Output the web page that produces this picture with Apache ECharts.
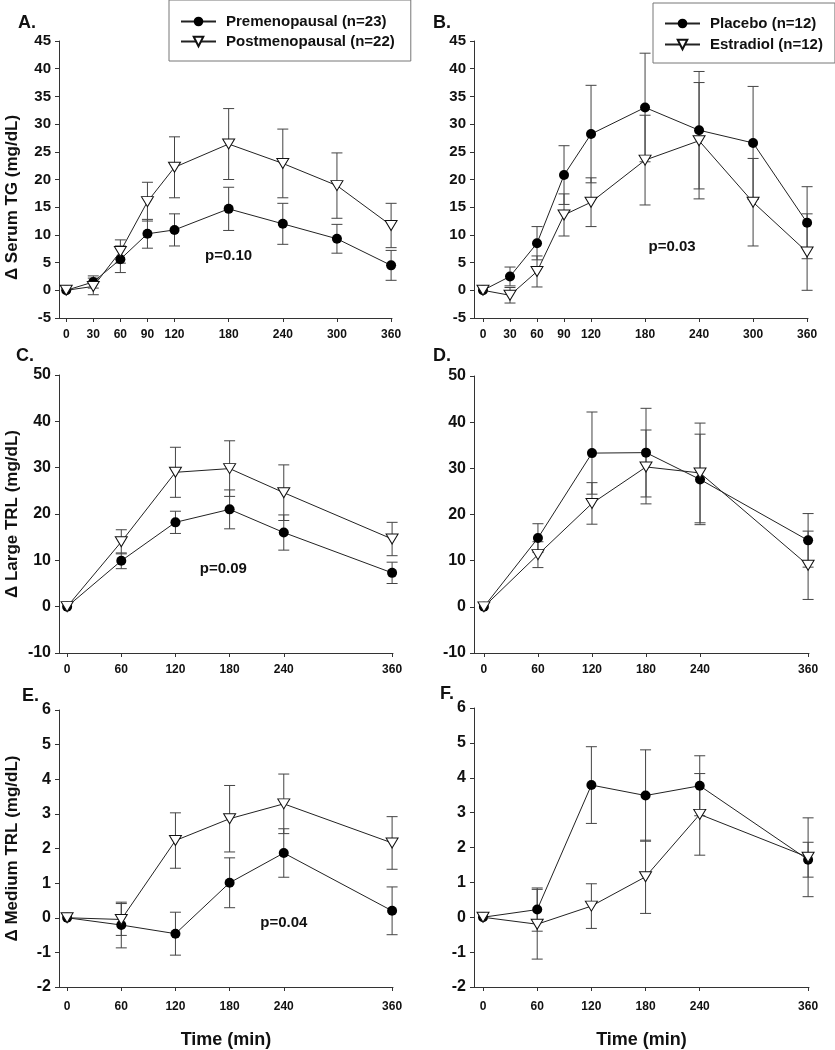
<!DOCTYPE html>
<html>
<head>
<meta charset="utf-8">
<script src="https://cdn.jsdelivr.net/npm/echarts@6/dist/echarts.min.js"></script>
<style>
html,body{margin:0;padding:0;background:#fff;}
#main{width:835px;height:1050px;}
</style>
</head>
<body>
<div id="main"></div>
<script>
// ---------------- DATA ----------------
const timesTG = [0, 30, 60, 90, 120, 180, 240, 300, 360];
const timesTRL = [0, 60, 120, 180, 240, 360];

const tgTickLabels = [0, 30, 60, 90, 120, 180, 240, 300, 360];
const trlTickLabels = [0, 60, 120, 180, 240, 360];

const groupNames = ['Premenopausal (n=23)', 'Postmenopausal (n=22)'];
const trialNames = ['Placebo (n=12)', 'Estradiol (n=12)'];

// Panel A: Serum TG, menopausal status
const tgPre     = [0, 1.5, 5.6, 10.2, 10.9, 14.7, 12.0, 9.3, 4.5];
const tgPreErr  = [0, 1.1, 2.4, 2.6, 2.9, 3.9, 3.7, 2.6, 2.7];
const tgPost    = [0, 0.7, 7.0, 16.0, 22.2, 26.4, 22.9, 18.9, 11.7];
const tgPostErr = [0, 1.5, 2.1, 3.5, 5.5, 6.4, 6.2, 5.9, 4.0];
// Panel B: Serum TG, placebo vs estradiol
const tgPlac    = [0, 2.5, 8.5, 20.8, 28.2, 33.0, 28.9, 26.6, 12.2];
const tgPlacErr = [0, 1.7, 3.0, 5.3, 8.8, 9.8, 10.6, 10.2, 6.5];
const tgEst     = [0, -0.9, 3.4, 13.6, 15.9, 23.5, 27.0, 15.9, 6.9];
const tgEstErr  = [0, 1.4, 2.8, 3.8, 4.4, 8.1, 10.5, 7.9, 6.9];
// Panel C: Large TRL, menopausal status
const lgPre     = [0, 9.9, 18.2, 21.0, 16.0, 7.3];
const lgPreErr  = [0, 1.7, 2.4, 4.2, 3.8, 2.3];
const lgPost    = [0, 14.0, 29.0, 29.8, 24.6, 14.6];
const lgPostErr = [0, 2.6, 5.4, 6.0, 6.0, 3.6];
// Panel D: Large TRL, placebo vs estradiol
const lgPlac    = [0, 14.9, 33.3, 33.4, 27.6, 14.4];
const lgPlacErr = [0, 3.1, 8.9, 9.6, 9.8, 5.8];
const lgEst     = [0, 11.3, 22.4, 30.3, 29.0, 9.0];
const lgEstErr  = [0, 2.8, 4.5, 8.0, 10.8, 7.4];
// Panel E: Medium TRL, menopausal status
const mdPre     = [0, -0.21, -0.46, 1.01, 1.87, 0.20];
const mdPreErr  = [0, 0.66, 0.62, 0.72, 0.70, 0.69];
const mdPost    = [0, -0.05, 2.23, 2.86, 3.29, 2.16];
const mdPostErr = [0, 0.46, 0.80, 0.96, 0.86, 0.76];
// Panel F: Medium TRL, placebo vs estradiol
const mdPlac    = [0, 0.22, 3.79, 3.49, 3.77, 1.65];
const mdPlacErr = [0, 0.62, 1.10, 1.31, 0.86, 0.50];
const mdEst     = [0, -0.20, 0.32, 1.16, 2.95, 1.72];
const mdEstErr  = [0, 1.00, 0.64, 1.05, 1.17, 1.13];

const yTitles = ['\u0394 Serum TG (mg/dL)', '\u0394 Large TRL (mg/dL)', '\u0394 Medium TRL (mg/dL)'];
const panelLetters = ['A.', 'B.', 'C.', 'D.', 'E.', 'F.'];
const pValues = ['p=0.10', 'p=0.03', 'p=0.09', 'p=0.04'];
// p-value anchor positions in data units [panel, time, value]
const pAnchors = [[0, 180, 6.2], [1, 210, 7.8], [2, 173, 8.1], [4, 240, -0.16]];

// ---------------- LAYOUT ----------------
const FONT = '"Liberation Sans", Arial, Helvetica, sans-serif';
const panels = [
  {grid:{left:59, top:41, width:333, height:277}, xmin:-8,  ymin:-5,  ymax:45, yint:5,  times:timesTG,  ticks:tgTickLabels,  s:[[tgPre,tgPreErr],[tgPost,tgPostErr]], names:groupNames, yTitle:yTitles[0], yFont:15, xMargin:11},
  {grid:{left:474, top:41, width:334, height:277}, xmin:-10, ymin:-5,  ymax:45, yint:5,  times:timesTG,  ticks:tgTickLabels,  s:[[tgPlac,tgPlacErr],[tgEst,tgEstErr]], names:trialNames, yTitle:null, yFont:15, xMargin:11},
  {grid:{left:59, top:375, width:334, height:278}, xmin:-9,  ymin:-10, ymax:50, yint:10, times:timesTRL, ticks:trlTickLabels, s:[[lgPre,lgPreErr],[lgPost,lgPostErr]], names:groupNames, yTitle:yTitles[1], yFont:16, xMargin:11},
  {grid:{left:474, top:376, width:335, height:277}, xmin:-11, ymin:-10, ymax:50, yint:10, times:timesTRL, ticks:trlTickLabels, s:[[lgPlac,lgPlacErr],[lgEst,lgEstErr]], names:trialNames, yTitle:null, yFont:16, xMargin:11},
  {grid:{left:59, top:710, width:334, height:277}, xmin:-9,  ymin:-2,  ymax:6,  yint:1,  times:timesTRL, ticks:trlTickLabels, s:[[mdPre,mdPreErr],[mdPost,mdPostErr]], names:groupNames, yTitle:yTitles[2], yFont:16, xMargin:14, xTitle:'Time (min)'},
  {grid:{left:474, top:708, width:335, height:279}, xmin:-10, ymin:-2,  ymax:6,  yint:1,  times:timesTRL, ticks:trlTickLabels, s:[[mdPlac,mdPlacErr],[mdEst,mdEstErr]], names:trialNames, yTitle:null, yFont:16, xMargin:14, xTitle:'Time (min)'}
];
const letterPos = [[18, 24], [433, 24], [16, 357], [433, 357], [22, 697], [440, 695]];

const grids = [], xAxes = [], yAxes = [], series = [];
const AXC = '#333';
panels.forEach((p, i) => {
  grids.push(Object.assign({containLabel:false, outerBoundsMode:'none'}, p.grid));
  xAxes.push({
    type:'value', gridIndex:i, min:p.xmin, max:361,
    axisLine:{onZero:false, lineStyle:{color:AXC, width:1}},
    axisTick:{show:true, length:4, inside:false, customValues:p.ticks, lineStyle:{color:AXC}},
    axisLabel:{customValues:p.ticks, fontSize:12, fontWeight:'bold', color:'#111', margin:p.xMargin, fontFamily:FONT},
    splitLine:{show:false},
    name:p.xTitle || '', nameLocation:'middle', nameGap:44,
    nameTextStyle:{fontSize:18, fontWeight:'bold', color:'#111', fontFamily:FONT}
  });
  yAxes.push({
    type:'value', gridIndex:i, min:p.ymin, max:p.ymax, interval:p.yint,
    axisLine:{show:true, onZero:false, lineStyle:{color:AXC, width:1}},
    axisTick:{show:true, length:4, inside:false, lineStyle:{color:AXC}},
    axisLabel:{fontSize:p.yFont, fontWeight:'bold', color:'#111', margin:8, fontFamily:FONT},
    splitLine:{show:false},
    name:p.yTitle || '', nameLocation:'middle', nameRotate:90, nameGap:38,
    nameTextStyle:{fontSize:17, fontWeight:'bold', color:'#111', fontFamily:FONT,
      padding: i === 0 ? [0, 36, 0, 0] : [0, 0, 0, 0]}
  });
  // error bars
  p.s.forEach((pair) => {
    const vals = pair[0], errs = pair[1];
    const d = [];
    p.times.forEach((t, k) => { if (errs[k] > 0) d.push([t, vals[k] - errs[k], vals[k] + errs[k]]); });
    series.push({
      type:'custom', xAxisIndex:i, yAxisIndex:i, z:1, silent:true, animation:false,
      encode:{x:0, y:[1, 2]},
      data:d,
      renderItem:function(params, api){
        const x = api.value(0);
        const lo = api.coord([x, api.value(1)]);
        const hi = api.coord([x, api.value(2)]);
        const w = 5.5;
        const st = {stroke:'#444', lineWidth:1};
        return {type:'group', children:[
          {type:'line', shape:{x1:lo[0], y1:lo[1], x2:hi[0], y2:hi[1]}, style:st},
          {type:'line', shape:{x1:lo[0]-w, y1:lo[1], x2:lo[0]+w, y2:lo[1]}, style:st},
          {type:'line', shape:{x1:hi[0]-w, y1:hi[1], x2:hi[0]+w, y2:hi[1]}, style:st}
        ]};
      }
    });
  });
  // lines
  const filled = p.s[0][0], open = p.s[1][0];
  series.push({
    type:'line', name:p.names[0], xAxisIndex:i, yAxisIndex:i, z:3, animation:false,
    data:p.times.map((t, k) => [t, filled[k]]),
    symbol:'circle', symbolSize:10, showSymbol:true,
    itemStyle:{color:'#000'}, lineStyle:{color:'#222', width:1},
    emphasis:{disabled:true}
  });
  series.push({
    type:'line', name:p.names[1], xAxisIndex:i, yAxisIndex:i, z:4, animation:false,
    data:p.times.map((t, k) => [t, open[k]]),
    symbol:'triangle', symbolRotate:180, symbolSize:[12, 10], showSymbol:true,
    itemStyle:{color:'#fff', borderColor:'#111', borderWidth:1}, lineStyle:{color:'#222', width:1},
    emphasis:{disabled:true}
  });
});

const legendBase = {
  orient:'vertical', borderColor:'#777', borderWidth:1, backgroundColor:'#fff',
  itemWidth:35, itemHeight:12, selectedMode:false,
  textStyle:{fontSize:15, fontWeight:'bold', color:'#111', fontFamily:FONT, padding:[0, 0, 0, 5]}
};
const legends = [
  Object.assign({}, legendBase, {data:groupNames, left:169, top:0, itemGap:5, padding:[14, 16, 12, 11]}),
  Object.assign({}, legendBase, {data:trialNames, left:653, top:3, itemGap:6, padding:[13, 12, 11, 11]})
];

const chart = echarts.init(document.getElementById('main'), null, {renderer:'canvas'});
chart.setOption({
  backgroundColor:'#fff',
  animation:false,
  textStyle:{fontFamily:FONT},
  grid:grids, xAxis:xAxes, yAxis:yAxes, legend:legends, series:series
});

// panel letters and p-values as text graphics
const graphics = [];
panelLetters.forEach((L, i) => {
  graphics.push({type:'text', left:letterPos[i][0], top:letterPos[i][1] - 10,
    style:{text:L, font:'bold 18px ' + FONT, fill:'#111'}});
});
pAnchors.forEach((a, j) => {
  const px = chart.convertToPixel({gridIndex:a[0]}, [a[1], a[2]]);
  graphics.push({type:'text', x:px[0], y:px[1],
    style:{text:pValues[j], font:'bold 15px ' + FONT, fill:'#111', textAlign:'center', textVerticalAlign:'middle'}});
});
chart.setOption({graphic:graphics});
</script>
</body>
</html>
